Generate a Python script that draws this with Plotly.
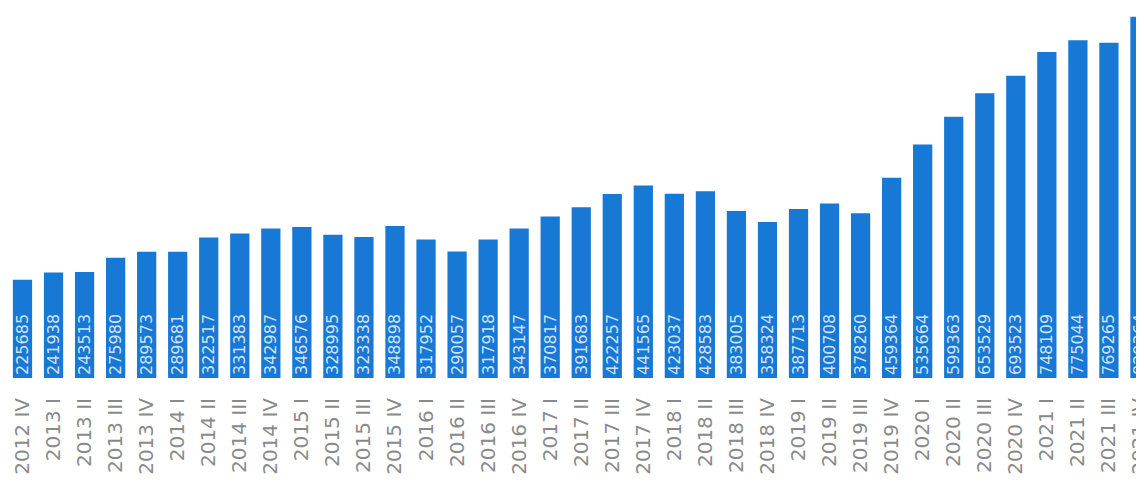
import plotly.graph_objects as go

# quarters shown on the x axis
quarters = [
    "2012 IV", "2013 I", "2013 II", "2013 III", "2013 IV",
    "2014 I", "2014 II", "2014 III", "2014 IV",
    "2015 I", "2015 II", "2015 III", "2015 IV",
    "2016 I", "2016 II", "2016 III", "2016 IV",
    "2017 I", "2017 II", "2017 III", "2017 IV",
    "2018 I", "2018 II", "2018 III", "2018 IV",
    "2019 I", "2019 II", "2019 III", "2019 IV",
    "2020 I", "2020 II", "2020 III", "2020 IV",
    "2021 I", "2021 II", "2021 III", "2021 IV",
]

values = [
    225685, 241938, 243513, 275980, 289573,
    289681, 322517, 331383, 342987,
    346576, 328995, 323338, 348898,
    317952, 290057, 317918, 343147,
    370817, 391683, 422257, 441565,
    423037, 428583, 383005, 358324,
    387713, 400708, 378260, 459364,
    535664, 599363, 653529, 693523,
    748109, 775044, 769265, 829364,
]

BAR_BLUE = "#1778d6"

fig = go.Figure(go.Bar(
    x=quarters,
    y=values,
    marker_color=BAR_BLUE,
    marker_line_width=0,
    text=[str(v) for v in values],
    textposition="inside",
    insidetextanchor="start",
    textangle=-90,
    constraintext="none",
    textfont=dict(family="DejaVu Sans", size=16, color="rgba(255,255,255,0.8)"),
))

# page body has an 8px margin, so the figure is sized to fit the window
fig.update_layout(
    width=1136,
    height=477,
    paper_bgcolor="white",
    plot_bgcolor="white",
    margin=dict(l=0, r=0, t=0, b=107),
    bargap=0.38,
    showlegend=False,
    xaxis=dict(
        type="category",
        range=[-0.467, 36.13],
        automargin=False,
        showgrid=False,
        showline=False,
        tickangle=-90,
        ticklabelstandoff=15,
        tickfont=dict(family="DejaVu Sans", size=20, color="#8a8a8a"),
    ),
    yaxis=dict(
        range=[0, 849200],
        visible=False,
        showgrid=False,
        automargin=False,
    ),
)

fig.write_html("out.html")
